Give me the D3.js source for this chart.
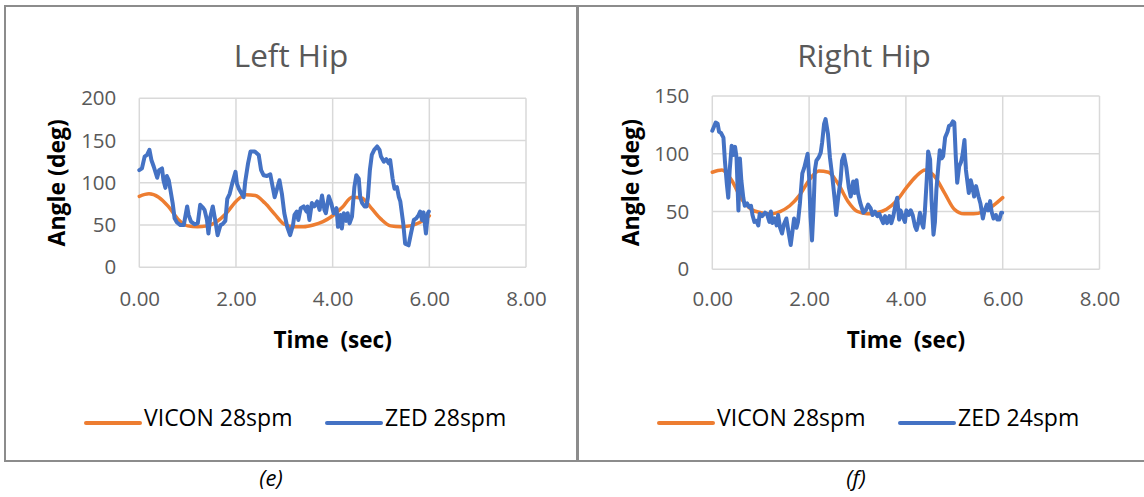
<!DOCTYPE html>
<html>
<head>
<meta charset="utf-8">
<script src="https://cdn.jsdelivr.net/npm/d3@7"></script>
<style>
body { margin: 0; background: #fff; }
svg { display: block; font-family: "Open Sans", Lato, sans-serif; }
</style>
</head>
<body>
<div id="chart"></div>
<script>
// ---- data ----
let x_ticks = [0, 2, 4, 6, 8];
let left_y_ticks = [0, 50, 100, 150, 200];
let right_y_ticks = [0, 50, 100, 150];

let vicon_time = [0, 0.2, 0.4, 0.6, 0.8, 1.0, 1.2, 1.4, 1.6, 1.8,
                  2.0, 2.2, 2.4, 2.6, 2.8, 3.0, 3.2, 3.4, 3.6, 3.8,
                  4.0, 4.2, 4.4, 4.6, 4.8, 5.0, 5.2, 5.4, 5.6, 5.8, 6.0];

let left_vicon = [84, 87, 83, 72, 57, 49, 48, 49, 54, 64,
                  78, 86, 85, 76, 63, 51, 48, 48, 50, 54,
                  61, 71, 83, 82, 70, 57, 49, 48, 49, 53, 61];

let right_vicon = [84, 86, 77, 61, 52, 49, 48, 50, 55, 64,
                   77, 85, 84, 74, 59, 50, 48, 49, 52, 59,
                   70, 80, 86, 80, 66, 52, 48, 48, 50, 55, 62];

let left_zed_time = [0, 0.055, 0.11, 0.16, 0.21, 0.25, 0.30, 0.37, 0.41, 0.47,
                     0.50, 0.54, 0.57, 0.61, 0.64, 0.69, 0.73, 0.78, 0.85, 0.92,
                     0.99, 1.02, 1.07, 1.14, 1.21, 1.26, 1.31, 1.35, 1.40, 1.43,
                     1.47, 1.52, 1.57, 1.62, 1.68, 1.72, 1.78, 1.82, 1.87, 1.93,
                     1.99, 2.02, 2.06, 2.11, 2.16, 2.19, 2.25, 2.30, 2.39, 2.47,
                     2.52, 2.57, 2.64, 2.71, 2.76, 2.80, 2.85, 2.90, 2.95, 3.00,
                     3.06, 3.12, 3.18, 3.21, 3.26, 3.29, 3.34, 3.40, 3.46, 3.48,
                     3.52, 3.57, 3.62, 3.68, 3.73, 3.78, 3.83, 3.86, 3.92, 3.97,
                     4.02, 4.08, 4.11, 4.16, 4.19, 4.23, 4.28, 4.31, 4.35, 4.40,
                     4.45, 4.49, 4.54, 4.57, 4.61, 4.66, 4.70, 4.73, 4.77, 4.81,
                     4.86, 4.92, 4.97, 5.00, 5.06, 5.11, 5.16, 5.19, 5.24, 5.28,
                     5.33, 5.37, 5.40, 5.46, 5.50, 5.57, 5.62, 5.68, 5.73, 5.78,
                     5.81, 5.85, 5.88, 5.93, 5.97, 5.99];

let left_zed = [115, 117, 131, 133, 139, 127, 119, 106, 115, 117,
                103, 94, 108, 103, 93, 76, 58, 53, 50, 50,
                72, 62, 54, 51, 52, 74, 71, 68, 56, 40,
                60, 72, 56, 38, 50, 51, 55, 81, 87, 101,
                113, 99, 93, 88, 83, 101, 123, 137, 137, 133,
                115, 109, 108, 110, 95, 83, 93, 103, 87, 64,
                48, 38, 50, 62, 66, 56, 70, 72, 66, 72,
                56, 76, 72, 78, 68, 85, 68, 64, 84, 76,
                64, 70, 48, 62, 46, 64, 55, 64, 52, 60,
                95, 109, 105, 83, 76, 72, 72, 83, 115, 133,
                139, 143, 139, 131, 125, 128, 123, 127, 105, 93,
                95, 83, 78, 52, 28, 26, 40, 56, 58, 62,
                66, 56, 65, 40, 64, 66];

let right_zed_time = [0, 0.03, 0.07, 0.11, 0.14, 0.18, 0.23, 0.26, 0.30, 0.33,
                      0.36, 0.40, 0.43, 0.47, 0.50, 0.54, 0.57, 0.60, 0.64, 0.67,
                      0.72, 0.76, 0.80, 0.83, 0.87, 0.91, 0.95, 0.98, 1.03, 1.09,
                      1.13, 1.18, 1.21, 1.24, 1.29, 1.33, 1.36, 1.40, 1.44, 1.48,
                      1.53, 1.58, 1.62, 1.66, 1.69, 1.74, 1.77, 1.81, 1.86, 1.90,
                      1.93, 1.97, 2.00, 2.03, 2.06, 2.09, 2.12, 2.15, 2.20, 2.24,
                      2.27, 2.31, 2.34, 2.39, 2.43, 2.48, 2.53, 2.56, 2.60, 2.65,
                      2.68, 2.72, 2.77, 2.82, 2.86, 2.91, 2.94, 2.98, 3.01, 3.06,
                      3.12, 3.17, 3.22, 3.27, 3.31, 3.36, 3.41, 3.45, 3.50, 3.53,
                      3.57, 3.61, 3.66, 3.70, 3.74, 3.79, 3.82, 3.86, 3.89, 3.93,
                      3.98, 4.01, 4.06, 4.10, 4.14, 4.19, 4.22, 4.26, 4.29, 4.32,
                      4.36, 4.39, 4.43, 4.46, 4.50, 4.53, 4.57, 4.60, 4.63, 4.67,
                      4.70, 4.74, 4.77, 4.81, 4.86, 4.89, 4.93, 4.97, 5.00, 5.03,
                      5.06, 5.10, 5.14, 5.17, 5.21, 5.24, 5.27, 5.30, 5.34, 5.37,
                      5.41, 5.45, 5.50, 5.54, 5.59, 5.62, 5.67, 5.70, 5.74, 5.77,
                      5.81, 5.86, 5.89, 5.93, 5.97, 5.99];

let right_zed = [120, 123, 127, 126, 119, 118, 114, 94, 74, 62,
                 86, 107, 99, 106, 97, 51, 96, 77, 62, 55,
                 57, 54, 55, 47, 41, 42, 38, 48, 46, 49,
                 48, 41, 50, 40, 44, 38, 47, 36, 31, 39,
                 44, 31, 21, 34, 44, 36, 41, 57, 83, 88,
                 93, 100, 80, 45, 25, 51, 86, 94, 97, 101,
                 110, 126, 130, 117, 97, 80, 60, 47, 62, 77,
                 94, 99, 88, 71, 63, 76, 66, 77, 66, 57,
                 49, 51, 56, 53, 47, 50, 46, 48, 43, 40,
                 46, 40, 46, 40, 46, 57, 62, 43, 51, 46,
                 41, 51, 47, 51, 47, 37, 34, 41, 49, 41,
                 36, 49, 77, 102, 95, 60, 30, 41, 69, 89,
                 103, 96, 98, 114, 119, 124, 125, 128, 127, 98,
                 75, 89, 93, 99, 112, 86, 76, 66, 77, 72,
                 63, 72, 63, 57, 44, 50, 56, 51, 59, 50,
                 44, 47, 43, 43, 49, 49];

let color_map = {
    "vicon": "#ED7D31",
    "zed": "#4472C4"
};

// ---- layout ----
let chart_width = 1144;
let chart_height = 497;

let panels = [
    {
        frame: [5, 577], title: "Left Hip", caption: "(e)", caption_x: 271,
        x_range: [139.3, 526], y_range: [267.3, 98.3], y_ticks: left_y_ticks,
        vicon: left_vicon, zed_time: left_zed_time, zed: left_zed,
        vicon_label: "VICON 28spm", zed_label: "ZED 28spm", y_title_x: 57
    },
    {
        frame: [578, 1150], title: "Right Hip", caption: "(f)", caption_x: 856,
        x_range: [712.3, 1099.5], y_range: [269.3, 96], y_ticks: right_y_ticks,
        vicon: right_vicon, zed_time: right_zed_time, zed: right_zed,
        vicon_label: "VICON 28spm", zed_label: "ZED 24spm", y_title_x: 631
    }
];

let svg = d3.select("#chart")
    .append("svg")
    .attr("width", chart_width)
    .attr("height", chart_height);

let tick_size = 20.5;

function draw_panel(p) {

    let g = svg.append("g");

    g.append("rect")
        .attr("x", p.frame[0])
        .attr("y", 6)
        .attr("width", p.frame[1] - p.frame[0])
        .attr("height", 455)
        .attr("fill", "none")
        .attr("stroke", "#8c8c8c")
        .attr("stroke-width", 2);

    let xScale = d3.scaleLinear().domain([0, 8]).range(p.x_range);
    let yScale = d3.scaleLinear()
        .domain([0, p.y_ticks[p.y_ticks.length - 1]])
        .range(p.y_range);

    // grid
    g.selectAll(".hgrid")
        .data(p.y_ticks)
        .enter()
        .append("line")
        .attr("x1", p.x_range[0])
        .attr("x2", p.x_range[1])
        .attr("y1", d => yScale(d))
        .attr("y2", d => yScale(d))
        .attr("stroke", "#d9d9d9")
        .attr("stroke-width", 1.5);

    g.selectAll(".vgrid")
        .data(x_ticks)
        .enter()
        .append("line")
        .attr("x1", d => xScale(d))
        .attr("x2", d => xScale(d))
        .attr("y1", p.y_range[0])
        .attr("y2", p.y_range[1])
        .attr("stroke", "#d9d9d9")
        .attr("stroke-width", 1.5);

    // axes
    let x_axis = g.append("g")
        .attr("transform", "translate(0," + p.y_range[0] + ")")
        .call(d3.axisBottom(xScale)
            .tickValues(x_ticks)
            .tickFormat(d3.format(".2f"))
            .tickSize(0)
            .tickPadding(306 - p.y_range[0] - 0.71 * tick_size));

    let y_axis = g.append("g")
        .attr("transform", "translate(" + p.x_range[0] + ",0)")
        .call(d3.axisLeft(yScale)
            .tickValues(p.y_ticks)
            .tickFormat(d3.format("d"))
            .tickSize(0)
            .tickPadding(23));

    for (let a of [x_axis, y_axis]) {
        a.select(".domain").remove();
        a.selectAll("text")
            .attr("fill", "#595959")
            .style("font-family", "'Open Sans', sans-serif")
            .style("font-size", tick_size + "px");
    }

    // lines
    let vicon_line = d3.line()
        .x((d, i) => xScale(vicon_time[i]))
        .y(d => yScale(d))
        .curve(d3.curveMonotoneX);

    let zed_line = d3.line()
        .x((d, i) => xScale(p.zed_time[i]))
        .y(d => yScale(d));

    g.append("path")
        .attr("d", vicon_line(p.vicon))
        .attr("fill", "none")
        .attr("stroke", color_map["vicon"])
        .attr("stroke-width", 3.5)
        .attr("stroke-linecap", "round");

    g.append("path")
        .attr("d", zed_line(p.zed))
        .attr("fill", "none")
        .attr("stroke", color_map["zed"])
        .attr("stroke-width", 4)
        .attr("stroke-linejoin", "round")
        .attr("stroke-linecap", "round");

    // titles
    g.append("text")
        .attr("x", p.frame[0] + 286)
        .attr("y", 67)
        .attr("text-anchor", "middle")
        .attr("fill", "#595959")
        .style("font-size", "31.5px")
        .text(p.title);

    g.append("text")
        .attr("x", (p.x_range[0] + p.x_range[1]) / 2)
        .attr("y", 348)
        .attr("text-anchor", "middle")
        .attr("fill", "#000")
        .style("font-size", "22.5px")
        .style("font-weight", "bold")
        .style("white-space", "pre")
        .text("Time  (sec)");

    g.append("text")
        .attr("transform", "translate(" + p.y_title_x + "," + ((p.y_range[0] + p.y_range[1]) / 2) + ") rotate(-90)")
        .attr("dy", "0.35em")
        .attr("text-anchor", "middle")
        .attr("fill", "#000")
        .style("font-size", "23px")
        .style("font-weight", "bold")
        .text("Angle (deg)");

    // legend
    let legend_data = [
        { "offset": 81, "color": color_map["vicon"], "text": p.vicon_label },
        { "offset": 322, "color": color_map["zed"], "text": p.zed_label }
    ];

    let legend = g.selectAll(".legend")
        .data(legend_data)
        .enter()
        .append("g")
        .attr("transform", d => "translate(" + (p.frame[0] + d.offset) + ",423)");

    legend.append("line")
        .attr("x1", 0)
        .attr("x2", 54)
        .attr("y1", 0)
        .attr("y2", 0)
        .attr("stroke", d => d.color)
        .attr("stroke-width", 4)
        .attr("stroke-linecap", "round");

    legend.append("text")
        .attr("x", 58)
        .attr("y", 2.5)
        .attr("fill", "#000")
        .style("font-size", "23px")
        .text(d => d.text);

    // caption
    svg.append("text")
        .attr("x", p.caption_x)
        .attr("y", 486)
        .attr("text-anchor", "middle")
        .attr("fill", "#000")
        .style("font-size", "22px")
        .style("font-style", "italic")
        .text(p.caption);
}

for (let p of panels) {
    draw_panel(p);
}
</script>
</body>
</html>
